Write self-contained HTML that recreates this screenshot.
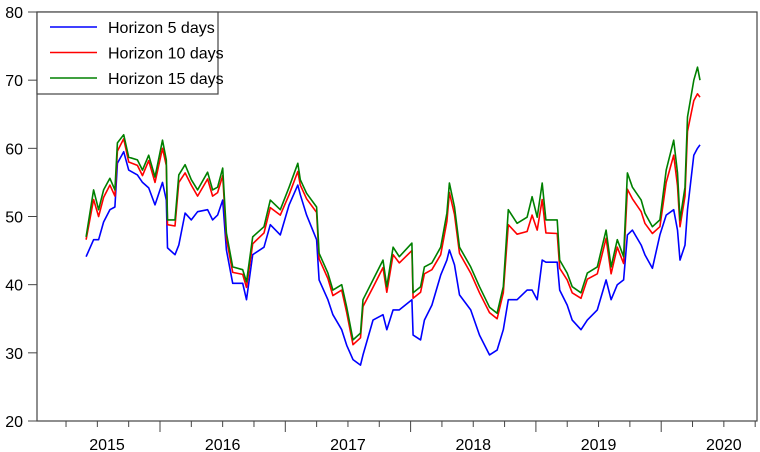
<!DOCTYPE html>
<html><head><meta charset="utf-8"><style>
body{margin:0;background:#fff}
svg{display:block;font-family:"Liberation Sans",sans-serif}
</style></head><body>
<svg id="c" width="760" height="452"></svg>
<script>
const dates=[2015.41,2015.47,2015.51,2015.55,2015.60,2015.64,2015.66,2015.71,2015.75,2015.82,2015.86,2015.91,2015.96,2016.02,2016.05,2016.06,2016.12,2016.15,2016.20,2016.25,2016.30,2016.38,2016.42,2016.46,2016.50,2016.53,2016.58,2016.66,2016.69,2016.74,2016.83,2016.88,2016.96,2017.03,2017.10,2017.12,2017.17,2017.25,2017.27,2017.34,2017.38,2017.45,2017.49,2017.54,2017.60,2017.62,2017.70,2017.78,2017.81,2017.86,2017.91,2018.01,2018.02,2018.08,2018.11,2018.17,2018.24,2018.29,2018.31,2018.35,2018.39,2018.48,2018.55,2018.63,2018.69,2018.74,2018.78,2018.85,2018.93,2018.97,2019.01,2019.05,2019.08,2019.17,2019.19,2019.25,2019.29,2019.36,2019.41,2019.49,2019.56,2019.60,2019.65,2019.70,2019.73,2019.77,2019.84,2019.87,2019.93,2019.99,2020.04,2020.10,2020.13,2020.15,2020.19,2020.21,2020.26,2020.29,2020.31];
const h15=[47.0,53.9,51.0,53.9,55.6,53.9,60.8,62.0,58.7,58.3,56.8,59.0,55.8,61.2,58.3,49.5,49.5,56.1,57.6,55.4,53.9,56.5,53.9,54.3,57.1,47.6,42.6,42.2,40.4,47.0,48.5,52.4,51.0,54.3,57.8,55.4,53.4,51.4,44.6,41.7,39.2,40.0,36.7,31.9,32.9,37.8,40.7,43.6,39.7,45.5,44.1,46.1,38.8,39.7,42.6,43.2,45.5,50.5,54.9,51.4,45.5,42.6,39.7,36.7,35.8,39.7,51.0,49.0,49.9,52.9,49.9,54.9,49.5,49.5,43.6,41.7,39.7,38.8,41.7,42.6,48.0,42.6,46.6,44.1,56.4,54.3,52.4,50.5,48.5,49.5,56.8,61.2,56.4,49.5,54.3,64.6,70.0,71.9,70.0];
const h10=[46.6,52.5,50.0,52.8,54.6,53.0,59.6,61.4,58.0,57.5,56.0,58.2,55.0,60.0,57.5,48.8,48.6,55.0,56.4,54.6,53.0,55.5,53.0,53.5,56.0,46.8,41.8,41.5,39.6,46.0,47.6,51.3,50.2,53.2,56.6,54.6,52.6,50.6,43.8,40.9,38.4,39.2,35.9,31.2,32.2,36.8,39.6,42.5,38.9,44.4,43.2,45.0,38.0,38.9,41.6,42.2,44.4,49.3,53.5,50.3,44.6,41.7,38.8,35.9,35.0,38.8,48.8,47.4,47.8,50.2,48.0,52.5,47.6,47.5,42.4,40.7,38.8,38.0,40.8,41.6,46.8,41.6,45.5,43.1,54.0,52.6,50.7,49.0,47.5,48.5,55.0,59.0,54.5,48.5,53.0,62.5,67.0,68.0,67.5];
const h5=[44.1,46.6,46.6,49.2,51.0,51.4,57.8,59.5,56.8,56.1,55.0,54.2,51.7,55.0,52.4,45.4,44.4,45.8,50.5,49.5,50.7,51.0,49.5,50.2,52.4,45.1,40.2,40.2,37.8,44.4,45.5,48.8,47.3,51.7,54.6,53.2,50.2,46.6,40.7,37.8,35.6,33.4,31.1,29.0,28.2,29.7,34.8,35.6,33.4,36.3,36.3,37.8,32.6,31.9,34.8,37.0,41.4,43.6,45.1,42.9,38.5,36.3,32.6,29.7,30.4,33.4,37.8,37.8,39.2,39.2,37.8,43.6,43.3,43.3,39.2,37.0,34.8,33.4,34.8,36.3,40.7,37.8,40.0,40.7,47.3,48.0,45.8,44.4,42.4,47.3,50.2,51.0,48.0,43.6,45.8,51.0,59.0,60.0,60.5];
const yTicks=[20,30,40,50,60,70,80];
const years=[2015,2016,2017,2018,2019,2020];

const NS="http://www.w3.org/2000/svg";
const svg=document.getElementById('c');
const L=37,R=757,T=12,B=421;
const xS=t=>160+(t-2016)*125.3;
const yS=v=>T+(80-v)*(B-T)/60;
function mk(tag,attrs,parent){const e=document.createElementNS(NS,tag);for(const k in attrs)e.setAttribute(k,attrs[k]);(parent||svg).appendChild(e);return e;}

const series=[[h5,'#0000ff','series-horizon-5'],[h10,'#ff0000','series-horizon-10'],[h15,'#008000','series-horizon-15']];
series.forEach(s=>{
  const d=s[0].map((v,i)=>(i?'L':'M')+xS(dates[i]).toFixed(1)+','+yS(v).toFixed(1)).join('');
  const p=mk('path',{d:d,fill:'none',stroke:s[1],'stroke-width':1.6,'stroke-linejoin':'round'});
  
  
});

const fr=mk('rect',{x:L,y:T,width:R-L,height:B-T,fill:'none',stroke:'#444','stroke-width':1.2});



yTicks.forEach(v=>{
  const y=yS(v);
  mk('line',{x1:L-9,x2:L,y1:y,y2:y,stroke:'#444'});
  const t=mk('text',{x:L-14,y:y+6,'text-anchor':'end','font-size':16,fill:'#000'});
  t.textContent=v;
  
  
});
for(let q=2015.25;q<2020.8;q+=0.25){
  const x=xS(q); if(x<L||x>R)continue;
  const major=Math.abs(q-Math.round(q))<0.01;
  mk('line',{x1:x,x2:x,y1:B,y2:B+(major?11:6),stroke:'#444'});
}
years.forEach(yr=>{
  let cx=xS(yr+0.5);
  if(cx<107)cx=107;
  const t=mk('text',{x:cx,y:450,'text-anchor':'middle','font-size':16,fill:'#000'});
  t.textContent=yr;
  
  
});

const lg=mk('g',{});


mk('rect',{x:L,y:T,width:181,height:82,fill:'#fff',stroke:'#444','stroke-width':1.2},lg);
const names=['Horizon 5 days','Horizon 10 days','Horizon 15 days'];
names.forEach((n,i)=>{
  const y=27+i*25.5;
  mk('line',{x1:50,x2:97,y1:y,y2:y,stroke:series[i][1],'stroke-width':1.5},lg);
  const t=mk('text',{x:108,y:y+6,'font-size':16,fill:'#000'},lg);
  t.textContent=n;
  
  
});
</script>
</body></html>
